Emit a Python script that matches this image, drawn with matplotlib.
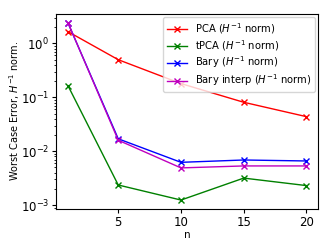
import matplotlib
matplotlib.use('Agg')
import matplotlib.pyplot as plt
import numpy as np

n = [1, 5, 10, 15, 20]
pca = [1.66, 0.50, 0.18, 0.081, 0.0438]
tpca = [0.164, 0.00236, 0.00124, 0.00317, 0.0023]
bary = [2.4, 0.0170, 0.00622, 0.00687, 0.00659]
bary_interp = [2.42, 0.0160, 0.0049, 0.00533, 0.00533]

fig = plt.figure(figsize=(3.32, 2.49), dpi=100)
ax = fig.add_axes([0.169, 0.161, 0.790, 0.783])

lw = 1.0
ms = 4
ax.plot(n, pca, 'x-', color='red', lw=lw, ms=ms, label='PCA ($H^{-1}$ norm)')
ax.plot(n, tpca, 'x-', color='green', lw=lw, ms=ms, label='tPCA ($H^{-1}$ norm)')
ax.plot(n, bary, 'x-', color='blue', lw=lw, ms=ms, label='Bary ($H^{-1}$ norm)')
ax.plot(n, bary_interp, 'x-', color='m', lw=lw, ms=ms, label='Bary interp ($H^{-1}$ norm)')

ax.set_yscale('log')
ax.set_xticks([5, 10, 15, 20])
ax.tick_params(axis='both', which='major', labelsize=8.5, length=3, width=0.8, pad=2)
ax.tick_params(axis='both', which='minor', length=1.5, width=0.6)
ax.set_xlabel('n', fontsize=7.5, labelpad=1)
ax.set_ylabel('Worst Case Error, $H^{-1}$ norm.', fontsize=7, labelpad=0)
ax.yaxis.set_label_coords(-0.13, 0.5)
for s in ax.spines.values():
    s.set_linewidth(0.8)
ax.legend(loc='upper right', fontsize=7.2, handlelength=2.0, labelspacing=0.2,
          borderaxespad=0.35, borderpad=0.35)

fig.savefig('out.png', dpi=100)
